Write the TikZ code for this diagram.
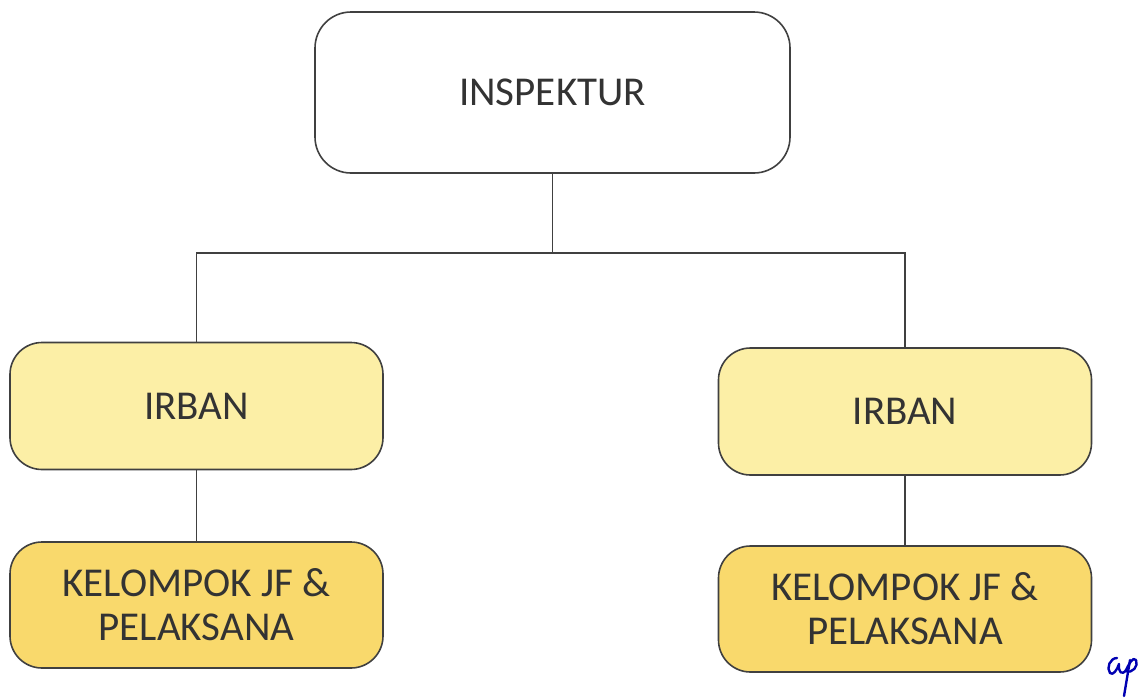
\documentclass[tikz,border=0pt]{standalone}
\usepackage{fontspec}
\setmainfont{Carlito}
\begin{document}
\begin{tikzpicture}[x=1pt,y=-1pt,
  box/.style={draw=black!75, line width=1.6pt, rounded corners=32pt, align=center,
    text=black!80, font=\fontsize{41}{44}\selectfont, inner sep=0pt},
  headbox/.style={box, fill=white, minimum width=475pt, minimum height=161pt, rounded corners=36pt},
  irbanbox/.style={box, fill=irbanfill, minimum width=373pt, minimum height=127pt},
  groupbox/.style={box, fill=groupfill, minimum width=373pt, minimum height=126pt},
  link/.style={draw=black!75, line width=1.2pt}]
\definecolor{irbanfill}{HTML}{FCEFA6}
\definecolor{groupfill}{HTML}{F9D96C}
\fill[white] (0,0) rectangle (1140,699);
\useasboundingbox (0,0) rectangle (1140,699);

\node[headbox]  (insp) at (552.5,92.5) {INSPEKTUR};
\node[irbanbox] (irL)  at (196.5,406)  {IRBAN};
\node[groupbox] (kelL) at (196.5,605)  {KELOMPOK JF \&\\PELAKSANA};
\node[irbanbox] (irR)  at (905,411.5)  {IRBAN};
\node[groupbox] (kelR) at (905,609)    {KELOMPOK JF \&\\PELAKSANA};

\coordinate (j) at (552.5,253);
\draw[link] (insp.south) -- (j);
\draw[link] (irL.north) |- (j) -| (irR.north);
\draw[link] (irL.south) -- (kelL.north);
\draw[link] (irR.south) -- (kelR.north);

% initials in blue ink
\draw[draw=blue!70!black, line width=2.4pt, line cap=round, line join=round]
  (1117,658) .. controls (1110,658) and (1106,668) .. (1110,673)
  .. controls (1113,676) and (1117,670) .. (1119,664)
  .. controls (1118,672) and (1122,676) .. (1126,670)
  .. controls (1129,664) and (1133,656) .. (1136,660)
  .. controls (1139,666) and (1132,674) .. (1126,671);
\draw[draw=blue!70!black, line width=2.4pt, line cap=round]
  (1130,660) .. controls (1128,672) and (1126,684) .. (1124,696);
\end{tikzpicture}
\end{document}
